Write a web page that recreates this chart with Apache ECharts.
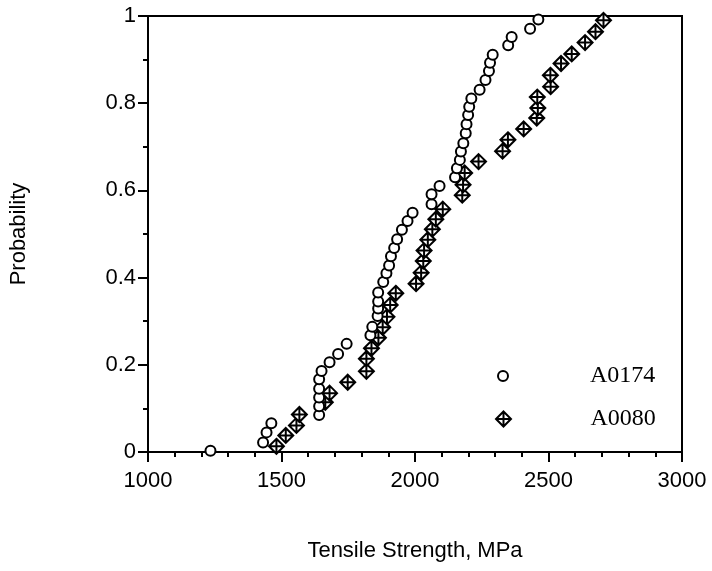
<!DOCTYPE html>
<html>
<head>
<meta charset="utf-8">
<script src="https://cdn.jsdelivr.net/npm/echarts@6/dist/echarts.min.js"></script>
<style>
html,body{margin:0;padding:0;background:#fff;}
#chart{width:712px;height:571px;}
</style>
</head>
<body>
<div id="chart"></div>
<script>
// Tensile strength (MPa) and cumulative probability, specimen A0174 (circles)
const a0174Strength = [1234,1431,1444,1462,1641,1641,1641,1641,1641,1650,1680,1712,1744,1833,1840,1860,1862,1862,1862,1881,1893,1903,1910,1922,1933,1951,1972,1991,2062,2062,2092,2150,2157,2168,2172,2181,2190,2193,2199,2203,2211,2242,2264,2277,2281,2291,2349,2362,2431,2462];
const a0174Prob = [0.003,0.022,0.045,0.066,0.085,0.105,0.125,0.145,0.167,0.186,0.206,0.225,0.248,0.268,0.287,0.312,0.329,0.345,0.366,0.390,0.410,0.428,0.449,0.468,0.488,0.510,0.530,0.549,0.568,0.591,0.610,0.630,0.651,0.670,0.689,0.708,0.731,0.752,0.773,0.792,0.811,0.831,0.853,0.874,0.893,0.911,0.933,0.952,0.971,0.992];
// Specimen A0080 (crossed diamonds)
const a0080Strength = [1481,1516,1556,1567,1664,1680,1748,1818,1818,1837,1863,1879,1895,1907,1928,2004,2023,2031,2034,2048,2065,2078,2104,2177,2180,2186,2238,2328,2348,2407,2456,2460,2458,2508,2507,2547,2587,2637,2676,2706];
const a0080Prob = [0.013,0.038,0.061,0.086,0.114,0.135,0.160,0.185,0.214,0.238,0.262,0.286,0.310,0.337,0.364,0.386,0.411,0.438,0.462,0.487,0.511,0.534,0.557,0.589,0.613,0.640,0.666,0.690,0.716,0.741,0.766,0.789,0.814,0.838,0.864,0.891,0.913,0.939,0.964,0.990];
const seriesNames = ['A0174','A0080'];
const xTicks = [1000,1500,2000,2500,3000];
const yTicks = [0,0.2,0.4,0.6,0.8,1];

const diamondPath = 'path://M0,-10 L10,0 L0,10 L-10,0 Z M0,-10 L0,10 M-10,0 L10,0';
const sans = '"Liberation Sans", Arial, sans-serif';
const serif = '"Liberation Serif", "Times New Roman", serif';

const chart = echarts.init(document.getElementById('chart'));
chart.setOption({
  animation: false,
  backgroundColor: '#fff',
  grid: {left: 148, right: 30, top: 16, bottom: 119, show: true, borderColor: '#000', borderWidth: 2, backgroundColor: 'transparent'},
  xAxis: {
    type: 'value', min: xTicks[0], max: xTicks[xTicks.length-1], interval: 500,
    name: 'Tensile Strength, MPa', nameLocation: 'middle', nameGap: 88,
    nameTextStyle: {fontFamily: sans, fontSize: 22, color: '#000'},
    axisLine: {show: true, onZero: false, lineStyle: {color: '#000', width: 2}},
    axisTick: {show: true, inside: false, length: 10, lineStyle: {color: '#000', width: 2}},
    minorTick: {show: true, splitNumber: 5, length: 5, lineStyle: {color: '#000', width: 2}},
    splitLine: {show: false},
    axisLabel: {margin: 18, fontFamily: sans, fontSize: 22, color: '#000', formatter: v => String(v)}
  },
  yAxis: {
    type: 'value', min: yTicks[0], max: yTicks[yTicks.length-1], interval: 0.2,
    name: 'Probability', nameLocation: 'middle', nameGap: 118, nameRotate: 90,
    nameTextStyle: {fontFamily: sans, fontSize: 22, color: '#000'},
    axisLine: {show: true, onZero: false, lineStyle: {color: '#000', width: 2}},
    axisTick: {show: true, inside: false, length: 10, lineStyle: {color: '#000', width: 2}},
    minorTick: {show: true, splitNumber: 2, length: 5, lineStyle: {color: '#000', width: 2}},
    splitLine: {show: false},
    axisLabel: {margin: 12, fontFamily: sans, fontSize: 22, color: '#000'}
  },
  legend: [
    {data: [seriesNames[0]], left: 492, top: 359, itemWidth: 164, itemHeight: 10, itemGap: 0,
     textStyle: {fontFamily: serif, fontSize: 24, color: '#000'}, selectedMode: false},
    {data: [seriesNames[1]], left: 490, top: 402, itemWidth: 164, itemHeight: 15, itemGap: 0,
     textStyle: {fontFamily: serif, fontSize: 24, color: '#000'}, selectedMode: false}
  ],
  series: [
    {
      name: seriesNames[1], type: 'scatter', symbol: diamondPath, symbolSize: 15,
      itemStyle: {color: '#fff', borderColor: '#000', borderWidth: 2, opacity: 1},
      data: a0080Strength.map((v, i) => [v, a0080Prob[i]]), z: 2
    },
    {
      name: seriesNames[0], type: 'scatter', symbol: 'circle', symbolSize: 10,
      itemStyle: {color: '#fff', borderColor: '#000', borderWidth: 2, opacity: 1},
      data: a0174Strength.map((v, i) => [v, a0174Prob[i]]), z: 3
    }
  ]
});
</script>
</body>
</html>
